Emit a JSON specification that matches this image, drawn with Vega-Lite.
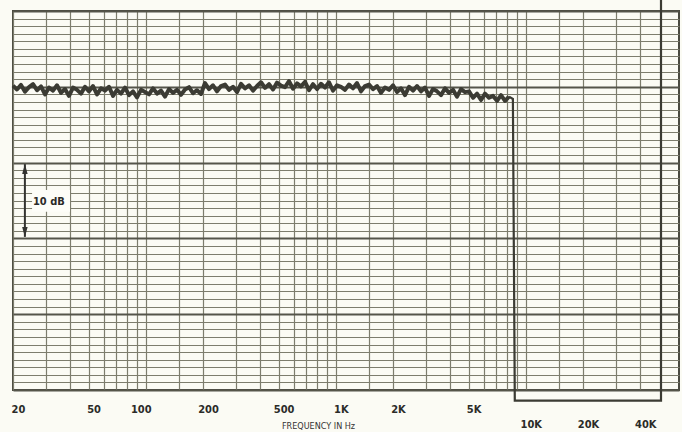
{
  "$schema": "https://vega.github.io/schema/vega-lite/v6.json",
  "width": 666,
  "height": 379,
  "autosize": {"type": "none"},
  "padding": {"left": 13, "top": 11, "right": 3, "bottom": 42},
  "background": "#fbfbf4",
  "config": {
    "view": {"stroke": "#4a4a40", "strokeWidth": 2},
    "font": "Liberation Sans Narrow, DejaVu Sans Condensed, sans-serif"
  },
  "datasets": {
    "curve": [{"f":20,"db":0.15},{"f":20.99,"db":-0.35},{"f":22.04,"db":0.25},{"f":23.13,"db":-0.65},{"f":24.28,"db":-0.05},{"f":25.49,"db":0.35},{"f":26.75,"db":-0.45},{"f":28.08,"db":0.05},{"f":29.48,"db":-1.0},{"f":30.94,"db":-0.1},{"f":32.48,"db":-0.5},{"f":34.09,"db":0.2},{"f":35.78,"db":-0.8},{"f":37.56,"db":-0.3},{"f":39.43,"db":-1.2},{"f":41.38,"db":-0.1},{"f":43.44,"db":-0.4},{"f":45.6,"db":-0.9},{"f":47.86,"db":0.0},{"f":50.24,"db":-0.6},{"f":52.74,"db":0.1},{"f":55.35,"db":-1.0},{"f":58.1,"db":-0.2},{"f":60.99,"db":-0.5},{"f":64.02,"db":0.0},{"f":67.2,"db":-1.2},{"f":70.54,"db":-0.4},{"f":74.04,"db":-0.9},{"f":77.72,"db":-0.1},{"f":81.58,"db":-1.1},{"f":85.63,"db":-0.6},{"f":89.88,"db":-1.4},{"f":94.35,"db":-0.4},{"f":99.03,"db":-0.7},{"f":103.95,"db":-1.0},{"f":109.12,"db":-0.2},{"f":114.54,"db":-0.9},{"f":120.23,"db":-0.5},{"f":126.2,"db":-1.3},{"f":132.47,"db":-0.3},{"f":139.05,"db":-0.8},{"f":145.95,"db":-0.4},{"f":153.2,"db":-1.05},{"f":160.81,"db":-0.35},{"f":168.8,"db":-0.05},{"f":177.18,"db":-0.85},{"f":185.98,"db":-0.45},{"f":195.22,"db":-0.95},{"f":204.92,"db":0.5},{"f":215.1,"db":-0.3},{"f":225.79,"db":0.2},{"f":237.0,"db":-0.6},{"f":248.8,"db":0.1},{"f":261.1,"db":0.3},{"f":274.1,"db":-0.4},{"f":287.7,"db":0.0},{"f":302.0,"db":-0.7},{"f":317.0,"db":0.4},{"f":332.8,"db":-0.2},{"f":349.3,"db":0.2},{"f":366.6,"db":-0.5},{"f":384.8,"db":0.1},{"f":403.9,"db":0.6},{"f":424.0,"db":-0.15},{"f":445.1,"db":0.35},{"f":467.2,"db":-0.35},{"f":490.4,"db":0.55},{"f":514.7,"db":0.15},{"f":540.3,"db":-0.05},{"f":567.2,"db":0.75},{"f":595.3,"db":-0.25},{"f":624.9,"db":0.45},{"f":655.9,"db":0.05},{"f":688.5,"db":0.65},{"f":722.7,"db":-0.45},{"f":758.6,"db":0.35},{"f":796.3,"db":-0.3},{"f":835.8,"db":0.4},{"f":877.3,"db":-0.1},{"f":920.9,"db":0.6},{"f":966.6,"db":-0.5},{"f":1014.6,"db":0.2},{"f":1065.0,"db":0.0},{"f":1117.9,"db":-0.4},{"f":1173.4,"db":0.3},{"f":1231.7,"db":-0.2},{"f":1292.9,"db":0.5},{"f":1357.1,"db":-0.6},{"f":1424.5,"db":0.1},{"f":1495.3,"db":0.3},{"f":1569.6,"db":-0.3},{"f":1647.5,"db":0.1},{"f":1729.4,"db":-0.8},{"f":1815.3,"db":-0.1},{"f":1905.4,"db":-0.4},{"f":2000.1,"db":0.2},{"f":2099.4,"db":-0.7},{"f":2203.7,"db":-0.2},{"f":2313.2,"db":-1.1},{"f":2428.1,"db":0.0},{"f":2548.7,"db":-0.5},{"f":2675.3,"db":0.1},{"f":2808.2,"db":-0.6},{"f":2947.7,"db":-0.1},{"f":3094.1,"db":-1.2},{"f":3247.8,"db":-0.3},{"f":3409.1,"db":-0.6},{"f":3578.5,"db":-1.1},{"f":3756.2,"db":-0.2},{"f":3942.8,"db":-0.8},{"f":4138.6,"db":-0.4},{"f":4344.2,"db":-1.3},{"f":4560.0,"db":-0.3},{"f":4786.5,"db":-0.7},{"f":5024.2,"db":-0.6},{"f":5273.8,"db":-1.45},{"f":5535.7,"db":-0.9},{"f":5810.7,"db":-1.75},{"f":6099.3,"db":-0.9},{"f":6402.3,"db":-1.45},{"f":6720.3,"db":-1.2},{"f":7054.1,"db":-1.85},{"f":7404.5,"db":-1.1},{"f":7772.3,"db":-1.85},{"f":8158.4,"db":-1.3}],
    "pen": [{"i":0,"f":8158.4,"db":-1.3},{"i":1,"f":8550,"db":-1.6},{"i":2,"f":8750,"db":-41.4},{"i":3,"f":51460,"db":-41.4},{"i":4,"f":51460,"db":12.5}],
    "box": [{"f":25.2,"f2":39.9,"db":-13.6,"db2":-16.5}],
    "arrow": [{"f":23.1,"db":-10.2,"db2":-19.8}],
    "note": [{"f":30.9,"db":-15.2,"label":"10 dB"}]
  },
  "layer": [
    {
      "data": {"name": "box"},
      "mark": {"type": "rect", "fill": "#fdfdf8", "stroke": null},
      "encoding": {
        "x": {
          "field": "f", "type": "quantitative",
          "scale": {"type": "log", "domain": [20, 64000], "nice": false},
          "axis": {
            "title": "FREQUENCY IN Hz",
            "titleFontSize": 9,
            "titleFontWeight": "normal",
            "titleColor": "#333333",
            "titleX": 305,
            "titleY": 31,
            "titleAlign": "center",
            "titleBaseline": "top",
            "tickCount": 100,
            "values": [20,30,40,50,60,70,80,90,100,150,200,300,400,500,600,700,800,900,1000,1500,2000,3000,4000,5000,6000,7000,8000,9000,10000,15000,20000,30000,40000],
            "labelExpr": "indexof([20,50,100,200,500],datum.value)>=0 ? datum.value+'' : (indexof([1000,2000,5000,10000,20000,40000],datum.value)>=0 ? (datum.value/1000)+'K' : '')",
            "labelFont": "Liberation Sans Narrow, DejaVu Sans Condensed, sans-serif",
            "labelFontSize": 11,
            "labelFontWeight": "bold",
            "labelColor": "#2b2b28",
            "labelPadding": {"condition": {"test": "datum.value >= 10000", "value": 28}, "value": 13},
            "labelOffset": {"condition": {"test": "datum.value == 100", "value": -5}, "value": 5},
            "labelOverlap": false,
            "labelFlush": false,
            "labelBound": false,
            "ticks": false,
            "domain": false,
            "grid": true,
            "gridColor": "#7d7d6d",
            "gridWidth": 1.2
          }
        },
        "x2": {"field": "f2"},
        "y": {
          "field": "db", "type": "quantitative",
          "scale": {"domain": [-40, 10], "nice": false, "zero": false},
          "axis": {
            "title": null,
            "labels": false,
            "ticks": false,
            "domain": false,
            "grid": true,
            "tickCount": 100,
            "values": [-40,-39,-38,-37,-36,-35,-34,-33,-32,-31,-30,-29,-28,-27,-26,-25,-24,-23,-22,-21,-20,-19,-18,-17,-16,-15,-14,-13,-12,-11,-10,-9,-8,-7,-6,-5,-4,-3,-2,-1,0,1,2,3,4,5,6,7,8,9,10],
            "gridColor": {"condition": {"test": "datum.value % 10 === 0", "value": "#55554a"}, "value": "#7d7d6d"},
            "gridWidth": {"condition": {"test": "datum.value % 10 === 0", "value": 2}, "value": 1.2}
          }
        },
        "y2": {"field": "db2"}
      }
    },
    {
      "data": {"name": "curve"},
      "mark": {"type": "line", "color": "#3b3b33", "strokeWidth": 4, "strokeJoin": "round"},
      "encoding": {
        "x": {"field": "f", "type": "quantitative"},
        "y": {"field": "db", "type": "quantitative"}
      }
    },
    {
      "data": {"name": "pen"},
      "mark": {"type": "line", "color": "#3b3b33", "strokeWidth": 2.2},
      "encoding": {
        "x": {"field": "f", "type": "quantitative"},
        "y": {"field": "db", "type": "quantitative"},
        "order": {"field": "i", "type": "quantitative"}
      }
    },
    {
      "data": {"name": "arrow"},
      "mark": {"type": "rule", "color": "#333330", "strokeWidth": 2},
      "encoding": {
        "x": {"field": "f", "type": "quantitative"},
        "y": {"field": "db", "type": "quantitative"},
        "y2": {"field": "db2"}
      }
    },
    {
      "data": {"name": "arrow"},
      "mark": {"type": "point", "shape": "M0,-1L0.55,1L-0.55,1Z", "filled": true, "color": "#333330", "size": 100, "opacity": 1, "yOffset": 5},
      "encoding": {
        "x": {"field": "f", "type": "quantitative"},
        "y": {"field": "db", "type": "quantitative"}
      }
    },
    {
      "data": {"name": "arrow"},
      "mark": {"type": "point", "shape": "M0,1L0.55,-1L-0.55,-1Z", "filled": true, "color": "#333330", "size": 100, "opacity": 1, "yOffset": -5},
      "encoding": {
        "x": {"field": "f", "type": "quantitative"},
        "y": {"field": "db2", "type": "quantitative"}
      }
    },
    {
      "data": {"name": "note"},
      "mark": {"type": "text", "font": "Liberation Sans Narrow, DejaVu Sans Condensed, sans-serif", "fontSize": 11, "fontWeight": "bold", "color": "#2b2b28", "align": "center", "baseline": "middle"},
      "encoding": {
        "x": {"field": "f", "type": "quantitative"},
        "y": {"field": "db", "type": "quantitative"},
        "text": {"field": "label"}
      }
    }
  ]
}
